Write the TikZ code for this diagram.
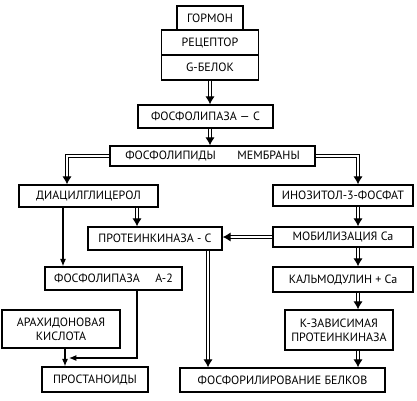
\documentclass[tikz,border=0pt]{standalone}
\usepackage{fontspec}
\setmainfont{PT Sans}
\usetikzlibrary{arrows.meta,calc}

\tikzset{
  box/.style={draw, line width=1.1pt, align=center, inner sep=1pt,
    font=\fontsize{9}{10.6}\selectfont},
  sz/.style 2 args={minimum width=#1*0.75pt, minimum height=#2*0.75pt},
  dbl/.style={double, double distance=1.7pt, line width=0.75pt,
    -{Latex[length=6pt,width=7pt]}},
  sgl/.style={line width=0.8pt, -{Latex[length=5.5pt,width=4.5pt]}}
}

\begin{document}
\begin{tikzpicture}[x=0.75pt,y=-0.75pt]
  \useasboundingbox (0,0) rectangle (417,400);
  % top stack
  \node[box,sz={66}{24}]   (gormon)   at (210, 18)    {ГОРМОН};
  \node[box,sz={97}{25}]   (receptor) at (210, 42.5)  {РЕЦЕПТОР};
  \node[box,sz={97}{25}]   (gbelok)   at (210, 67.5)  {G-БЕЛОК};
  \node[box,sz={135}{23}]  (fosC)     at (205.5, 116.5) {ФОСФОЛИПАЗА — С};
  \node[box,sz={205}{20}]  (membr)    at (212.5, 156) {ФОСФОЛИПИДЫ\hspace{1.8em}МЕМБРАНЫ};
  % left branch
  \node[box,sz={139}{22}]  (diac)     at (88.5, 196)  {ДИАЦИЛГЛИЦЕРОЛ};
  \node[box,sz={134}{23}]  (prot)     at (155, 238.5) {ПРОТЕИНКИНАЗА - С};
  \node[box,sz={137}{23}]  (fosA)     at (113.5, 278.5) {ФОСФОЛИПАЗА\hspace{1.3em}А-2};
  \node[box,sz={118}{38}]  (arah)     at (61, 329)    {АРАХИДОНОВАЯ\\КИСЛОТА};
  \node[box,sz={106}{25}]  (prost)    at (95, 379.5)  {ПРОСТАНОИДЫ};
  % right branch
  \node[box,sz={140}{21}]  (inoz)     at (343, 195.5) {ИНОЗИТОЛ-3-ФОСФАТ};
  \node[box,sz={140}{20}]  (mob)      at (343, 237)   {МОБИЛИЗАЦИЯ Ca};
  \node[box,sz={140}{25}]  (kalm)     at (343, 279.5) {КАЛЬМОДУЛИН + Ca};
  \node[box,sz={108}{40}]  (kzav)     at (339, 330)   {К-ЗАВИСИМАЯ\\ПРОТЕИНКИНАЗА};
  \node[box,sz={205}{24}]  (fosfor)   at (282.5, 380) {ФОСФОРИЛИРОВАНИЕ БЕЛКОВ};

  % vertical tracks
  \coordinate (lc) at (67,0);
  \coordinate (rc) at (358,0);
  \coordinate (pc) at (208,0);
  \coordinate (dc) at (137,0);
  \coordinate (sc) at (63,0);
  \coordinate (ac) at (65,0);
  \coordinate (jn) at (69,358);

  \draw[dbl] (gbelok) -- (fosC.north -| gbelok);
  \draw[dbl] (fosC.south -| gbelok) -- (membr.north -| gbelok);
  \draw[dbl] (membr.west) -| (diac.north -| lc);
  \draw[dbl] (membr.east) -| (inoz.north -| rc);
  \draw[dbl] (diac.south -| dc) -- (prot.north -| dc);
  \draw[sgl] (diac.south -| sc) -- (fosA.north -| sc);
  \draw[dbl] (inoz.south -| rc) -- (mob.north -| rc);
  \draw[dbl] (mob.west) -- (mob.west -| prot.east);
  \draw[dbl] (mob.south -| rc) -- (kalm.north -| rc);
  \draw[dbl] (kalm.south -| rc) -- (kzav.north -| rc);
  \draw[dbl] (kzav.south -| rc) -- (fosfor.north -| rc);
  \draw[dbl] (prot.south -| pc) -- (fosfor.north -| pc);
  \draw[sgl] (fosA.south -| dc) |- (jn);
  \draw[sgl] (arah.south -| ac) -- (prost.north -| ac);
\end{tikzpicture}
\end{document}
